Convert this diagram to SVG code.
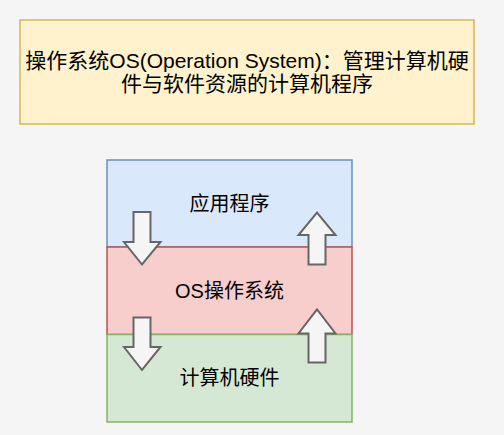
<svg xmlns="http://www.w3.org/2000/svg" width="504" height="435" viewBox="0 0 504 435">
<style>
text{font-family:"Liberation Sans","Noto Sans CJK SC",sans-serif;fill:#000;text-anchor:middle}
.t1{font-size:21px}
.t2{font-size:20px}
.arrow{fill:#f5f5f5;stroke:#666666;stroke-width:2;stroke-linejoin:miter}
</style>
<rect x="0" y="0" width="504" height="435" fill="#f5f5f5"/>
<g id="title">
<rect x="20" y="20" width="454" height="104" fill="#fff2cc" stroke="#d6b656" stroke-width="1.5"/>
<text class="t1" x="247" y="68">操作系统OS(Operation System)：管理计算机硬</text>
<text class="t1" x="247" y="91">件与软件资源的计算机程序</text>
</g>
<g id="app">
<rect x="107" y="160" width="245" height="87" fill="#dae8fc" stroke="#6c8ebf" stroke-width="1.5"/>
<text class="t2" x="229.5" y="211">应用程序</text>
</g>
<g id="os">
<rect x="107" y="247" width="245" height="87.5" fill="#f8cecc" stroke="#b85450" stroke-width="1.5"/>
<text class="t2" x="229.5" y="298">OS操作系统</text>
</g>
<g id="hw">
<rect x="107" y="334.5" width="245" height="87.5" fill="#d5e8d4" stroke="#82b366" stroke-width="1.5"/>
<text class="t2" x="229.5" y="385">计算机硬件</text>
</g>
<g id="connectors">
<polygon class="arrow" points="133.5,212 150.5,212 150.5,242 160.5,242 142,264.5 124,242 133.5,242"/>
<polygon class="arrow" points="308.5,264.5 325.5,264.5 325.5,235 335.5,235 317,212.5 298.5,235 308.5,235"/>
<polygon class="arrow" points="133.5,317.5 150.5,317.5 150.5,347 160.5,347 142,370 124,347 133.5,347"/>
<polygon class="arrow" points="308.5,362.5 325.5,362.5 325.5,333.5 335.5,333.5 317,309.5 298.5,333.5 308.5,333.5"/>
</g>
</svg>
